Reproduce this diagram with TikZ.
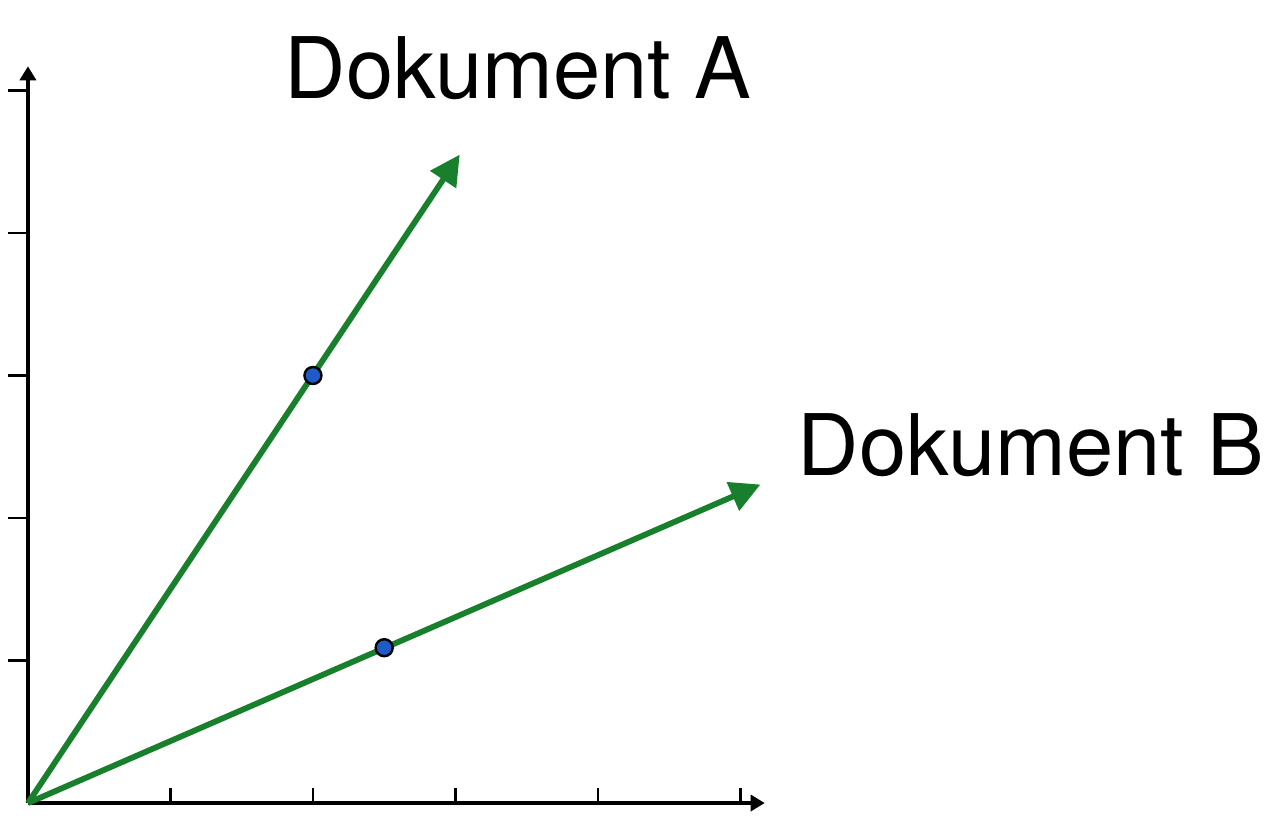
\documentclass[tikz,border=0pt]{standalone}
\usepackage{fontspec}
\setmainfont{TeX Gyre Heros}
\usetikzlibrary{arrows.meta}
\definecolor{vecgreen}{RGB}{24,128,44}
\definecolor{dotblue}{RGB}{30,90,200}
\tikzset{
	axis/.style={line width=1.7pt, -{Triangle[length=7pt,width=8pt]}},
	tick/.style={line width=1.2pt},
	docvec/.style={line width=2.9pt, color=vecgreen, -{Triangle[length=15pt,width=15pt]}},
	docdot/.style={circle, draw=black, fill=dotblue, line width=1.2pt, inner sep=0pt, minimum size=8.5pt},
	doclabel/.style={inner sep=0pt, anchor=base west, font=\fontsize{42.4}{48}\selectfont}
}

\begin{document}
\begin{tikzpicture}[x=2.5cm, y=2.5cm]
			%%%%% START %%%%%
			
			\useasboundingbox (-0.196, -0.204) rectangle (8.786, 5.635);
			
			\coordinate (O) at (0, 0);
			\coordinate (xend) at (5.17, 0);
			\coordinate (yend) at (0, 5.17);
			
			\foreach \i in {1,...,5} {
				\draw[tick] (\i, 0) -- (\i, 0.105);
				\draw[tick] (0, \i) -- (-0.14, \i);
			}
			
			\draw[axis] (O) -- (xend);
			\draw[axis] (O) -- (yend);
			
			\coordinate (tipA) at (3.03, 4.55);
			\coordinate (tipB) at (5.14, 2.235);
			
			\draw[docvec] (O) -- (tipA);
			\draw[docvec] (O) -- (tipB);
			
			\node[docdot] (dotA) at (2, 3) {};
			\node[docdot] (dotB) at (2.5, 1.09) {};
			
			\node[doclabel] (labelA) at (1.80, 4.947) {Dokument A};
			\node[doclabel] (labelB) at (5.40, 2.295) {Dokument B};
			
			%%%%% END %%%%%
\end{tikzpicture}
\end{document}
